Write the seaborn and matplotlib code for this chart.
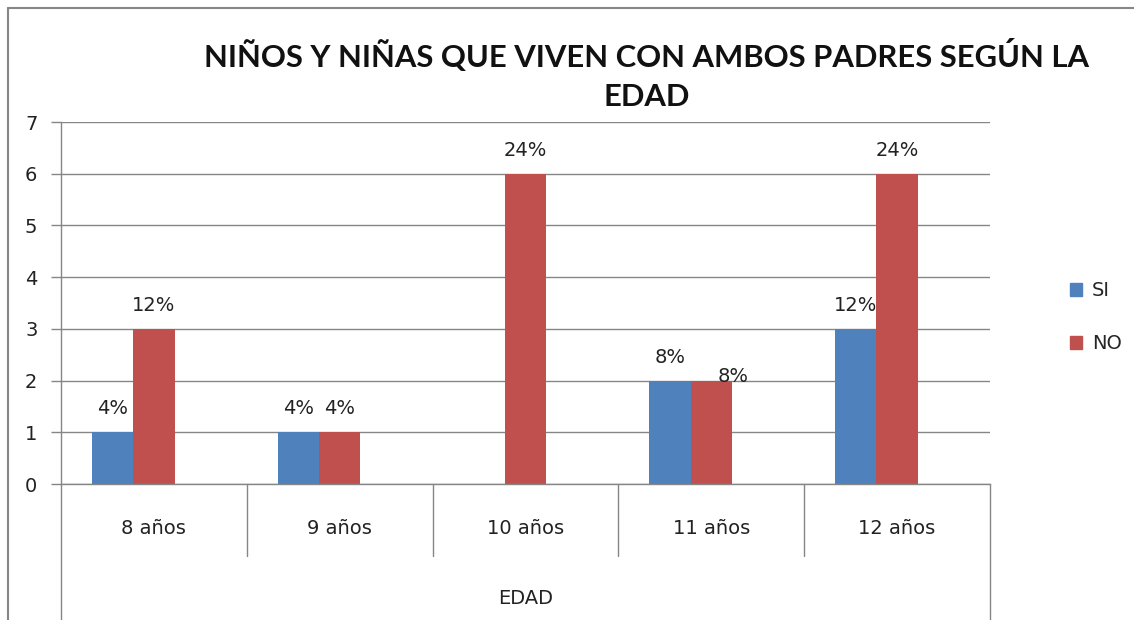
import matplotlib
matplotlib.use("Agg")
import matplotlib.pyplot as plt
from matplotlib.lines import Line2D
from matplotlib.patches import Patch
import seaborn as sns
import pandas as pd

edades = ["8 años", "9 años", "10 años", "11 años", "12 años"]
si = [1, 1, 0, 2, 3]
no = [3, 1, 6, 2, 6]
vacia = [0, 0, 0, 0, 0]
si_pct = ["4%", "4%", "", "8%", "12%"]
no_pct = ["12%", "4%", "24%", "8%", "24%"]
y_ticks = [0, 1, 2, 3, 4, 5, 6, 7]
titulo = "NIÑOS Y NIÑAS QUE VIVEN CON AMBOS PADRES SEGÚN LA\nEDAD"

AZUL = "#4F81BD"
ROJO = "#C0504D"
GRIS = "#868686"
TXT = "#222222"
FS = 14

df = pd.DataFrame({
    "edad": edades * 3,
    "valor": si + no + vacia,
    "serie": ["SI"] * 5 + ["NO"] * 5 + ["_vacia"] * 5,
})

sns.set_style("white")
plt.rcParams["font.family"] = ["DejaVu Sans"]

fig = plt.figure(figsize=(11.34, 6.2), dpi=100)
ax = fig.add_axes([61 / 1134, 1 - 484 / 620, (990 - 61) / 1134, (484 - 122) / 620])

sns.barplot(data=df, x="edad", y="valor", hue="serie", hue_order=["SI", "NO", "_vacia"],
            palette=[AZUL, ROJO, "white"], width=2 / 3, gap=0, saturation=1,
            linewidth=0, errorbar=None, legend=False, ax=ax)

ax.set_xlim(-0.5, 4.5)
ax.set_ylim(0, 7)
ax.set_yticks(y_ticks)
ax.set_xlabel("")
ax.set_ylabel("")
ax.yaxis.grid(True, color=GRIS, linewidth=1)
ax.set_axisbelow(True)
for s in ["top", "right"]:
    ax.spines[s].set_visible(False)
for s in ["left", "bottom"]:
    ax.spines[s].set_color(GRIS)
    ax.spines[s].set_linewidth(1)
ax.tick_params(axis="y", left=True, length=7, width=1, color=GRIS, pad=10,
               labelsize=FS, labelcolor=TXT)
ax.tick_params(axis="x", bottom=False, pad=22, labelsize=FS, labelcolor=TXT)

# etiquetas de porcentaje
ajustes = {(1, 3): (16, -14)}
for i, (cont, etiquetas) in enumerate(zip(ax.containers[:2], [si_pct, no_pct])):
    for j, (barra, lab) in enumerate(zip(cont, etiquetas)):
        if not lab:
            continue
        dx, dy = ajustes.get((i, j), (0, 0))
        ax.annotate(lab, (barra.get_x() + barra.get_width() / 2, barra.get_height()),
                    xytext=(dx, 10 + dy), textcoords="offset points",
                    ha="center", va="bottom", fontsize=FS, color=TXT)

# separadores de categorias bajo el eje
trans = ax.get_xaxis_transform()
for k in range(len(edades) + 1):
    b = k - 0.5
    fondo = -0.376 if k in (0, len(edades)) else -0.199
    ax.plot([b, b], [0, fondo], transform=trans, clip_on=False, color=GRIS, linewidth=1)

ax.text(0.5, -0.315, "EDAD", transform=ax.transAxes, ha="center", va="center",
        fontsize=FS, color=TXT)

ax.legend(handles=[Patch(color=AZUL), Patch(color=ROJO)], labels=["SI", "NO"],
          loc="center left", bbox_to_anchor=(1052 / 1134, 1 - 317 / 620),
          bbox_transform=fig.transFigure, frameon=False, fontsize=FS,
          handlelength=0.65, handleheight=0.65, labelspacing=1.75, handletextpad=0.5)

fig.text(647 / 1134, 1 - 75 / 620, titulo, ha="center", va="center",
         fontsize=22.3, fontweight="bold", linespacing=1.5, color="#111111",
         family=["Lato", "DejaVu Sans"])

# marco exterior
fig.add_artist(Line2D([8 / 1134, 1], [1 - 8 / 620, 1 - 8 / 620], color=GRIS, linewidth=1.5))
fig.add_artist(Line2D([8 / 1134, 8 / 1134], [0, 1 - 8 / 620], color=GRIS, linewidth=1.5))

fig.savefig("out.png", dpi=100)
